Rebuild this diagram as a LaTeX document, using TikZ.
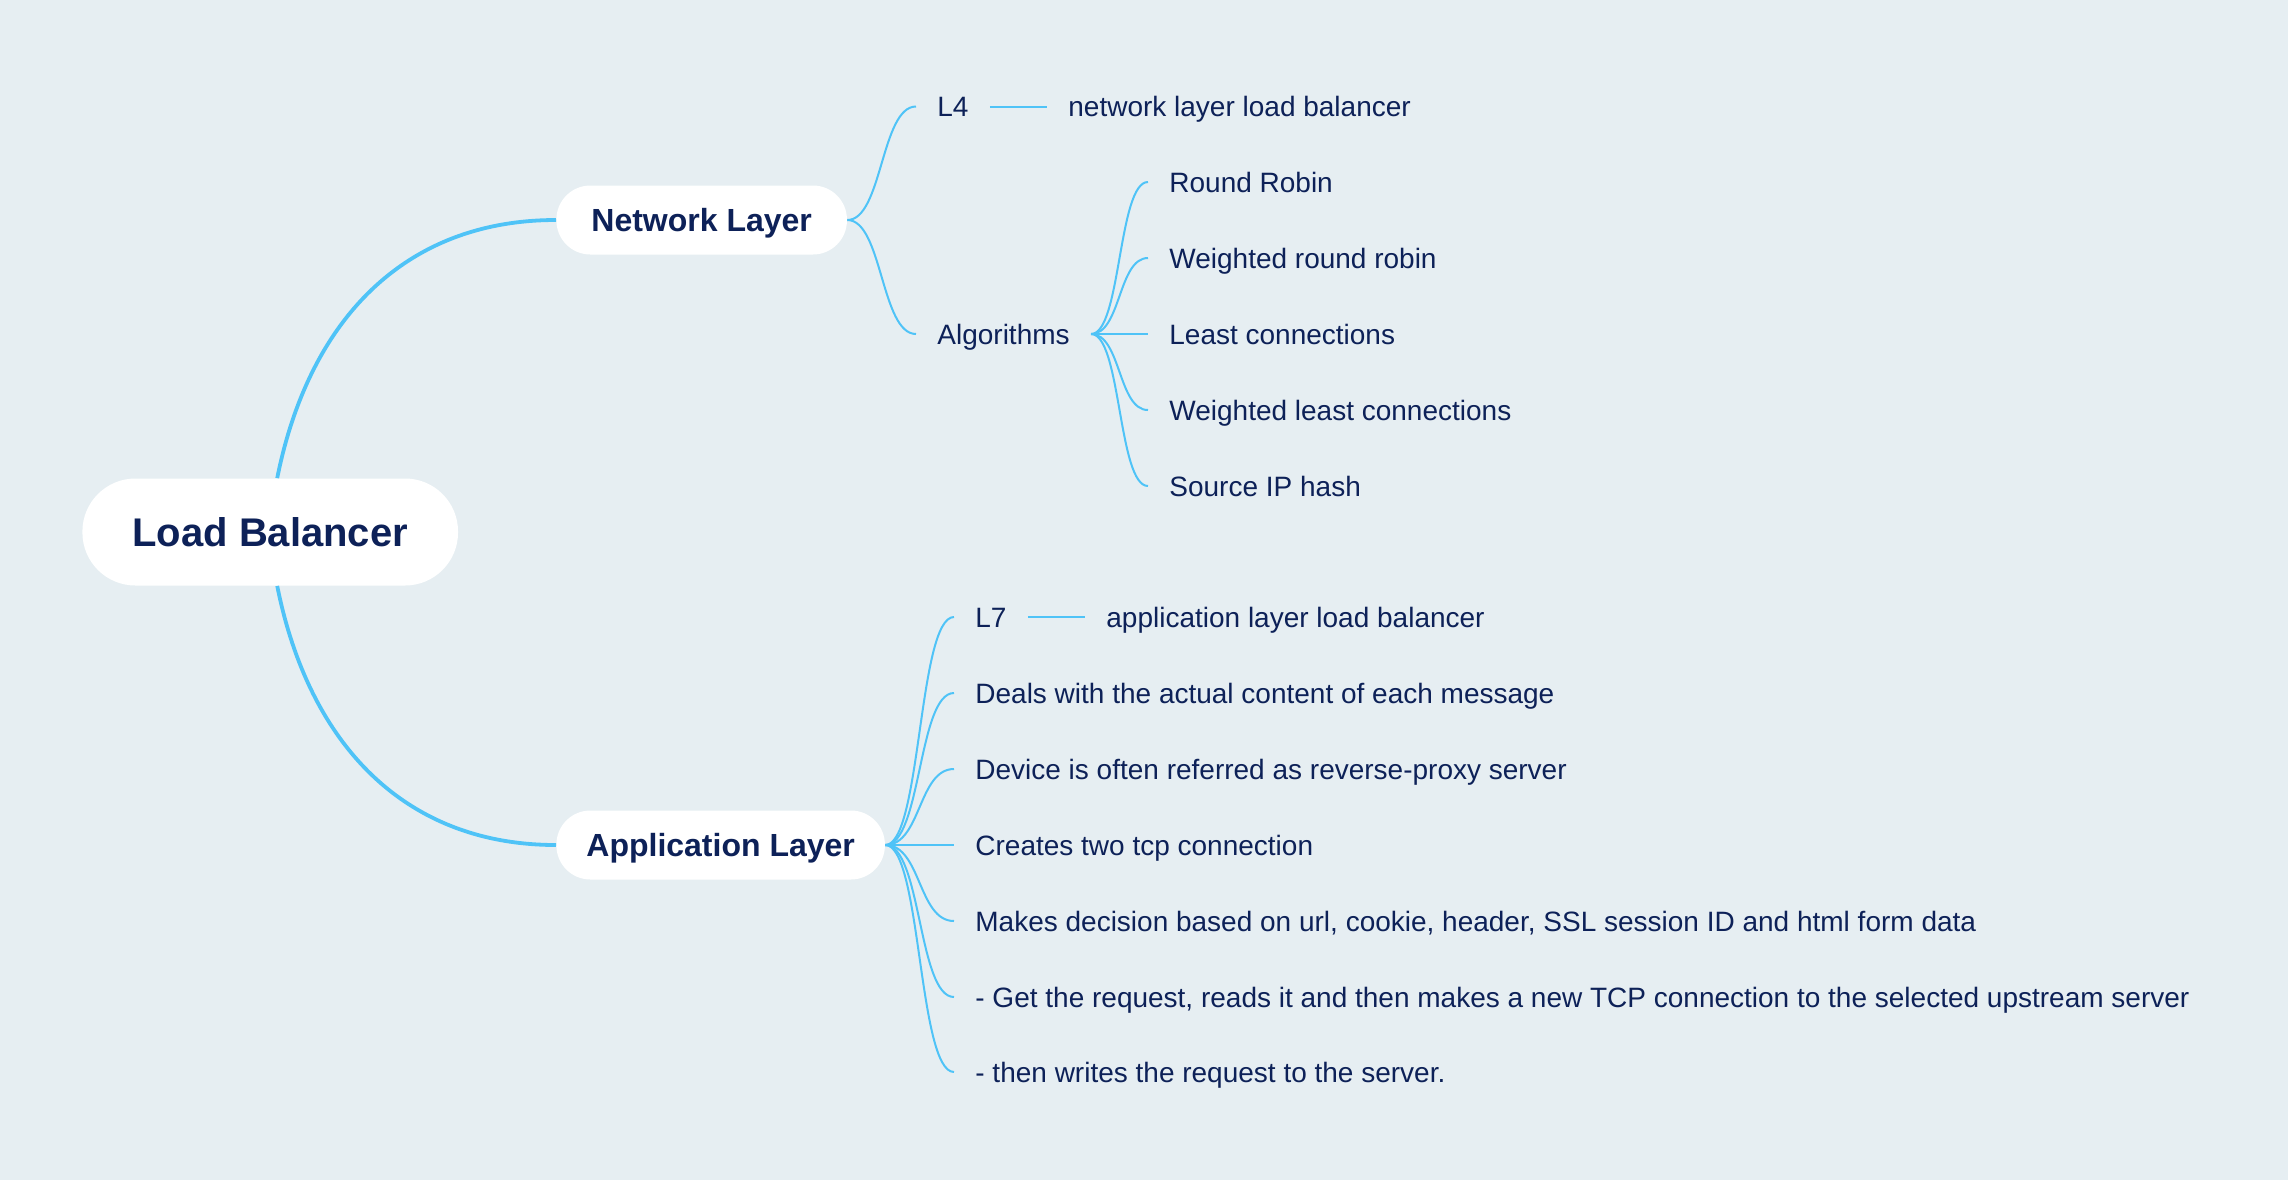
\documentclass[tikz,border=0pt]{standalone}
\usepackage{fontspec}
\setmainfont{Liberation Sans}
\definecolor{bgc}{HTML}{E6EEF2}
\definecolor{linec}{HTML}{4FC3F7}
\definecolor{txtc}{HTML}{0D2158}
\begin{document}
\begin{tikzpicture}[x=0.5pt,y=-0.5pt,
  rootbox/.style={fill=white,text=txtc,font=\fontsize{20}{24}\selectfont\bfseries,
    minimum height=53.5pt,inner xsep=25pt,inner ysep=0pt,rounded corners=26.5pt,
    text height=15.5pt,text depth=1.2pt,anchor=west},
  branchbox/.style={fill=white,text=txtc,font=\fontsize{16}{19}\selectfont\bfseries,
    minimum height=34.5pt,inner xsep=16.5pt,inner ysep=0pt,rounded corners=17pt,
    text height=12.5pt,text depth=1pt,anchor=west},
  leaf/.style={text=txtc,font=\fontsize{14}{17}\selectfont,inner xsep=10.5pt,inner ysep=0pt,
    text height=12pt,text depth=2pt,anchor=west},
  mainline/.style={draw=linec,line width=1.9pt},
  subline/.style={draw=linec,line width=1pt},
]
\fill[bgc] (0,0) rectangle (2288,1180);
\useasboundingbox (0,0) rectangle (2288,1180);

\node[rootbox] (root) at (82,532) {Load Balancer};
\node[branchbox,inner xsep=17.5pt] (net) at (556,220) {Network Layer};
\node[branchbox,inner xsep=15pt] (app) at (556,845) {Application Layer};

\node[leaf] (l4) at (916,106.5) {L4};
\node[leaf] (l4d) at (1047,106.5) {network layer load balancer};
\node[leaf] (alg) at (916,334) {Algorithms};
\node[leaf] (a1) at (1148,182) {Round Robin};
\node[leaf] (a2) at (1148,258) {Weighted round robin};
\node[leaf] (a3) at (1148,334) {Least connections};
\node[leaf] (a4) at (1148,410) {Weighted least connections};
\node[leaf] (a5) at (1148,486) {Source IP hash};

\node[leaf] (l7) at (954,617) {L7};
\node[leaf] (l7d) at (1085,617) {application layer load balancer};
\node[leaf] (p1) at (954,693) {Deals with the actual content of each message};
\node[leaf] (p2) at (954,769) {Device is often referred as reverse-proxy server};
\node[leaf] (p3) at (954,845) {Creates two tcp connection};
\node[leaf] (p4) at (954,921) {Makes decision based on url, cookie, header, SSL session ID and html form data};
\node[leaf] (p5) at (954,997) {- Get the request, reads it and then makes a new TCP connection to the selected upstream server};
\node[leaf] (p6) at (954,1072) {- then writes the request to the server.};

\draw[mainline] ([xshift=3.5pt]root.north) .. controls +(32,-160) and +(-150,0) .. (net.west);
\draw[mainline] ([xshift=3.5pt]root.south) .. controls +(32,160) and +(-150,0) .. (app.west);

\foreach \c in {l4,alg} {
  \draw[subline] (net.east) .. controls +(35,0) and +(-35,0) .. (\c.west);
}
\draw[subline] (l4.east) -- (l4d.west);
\foreach \c in {a1,a2,a3,a4,a5} {
  \draw[subline] (alg.east) .. controls +(30,0) and +(-30,0) .. (\c.west);
}
\foreach \c in {l7,p1,p2,p3,p4,p5,p6} {
  \draw[subline] (app.east) .. controls +(36,0) and +(-36,0) .. (\c.west);
}
\draw[subline] (l7.east) -- (l7d.west);
\end{tikzpicture}
\end{document}
